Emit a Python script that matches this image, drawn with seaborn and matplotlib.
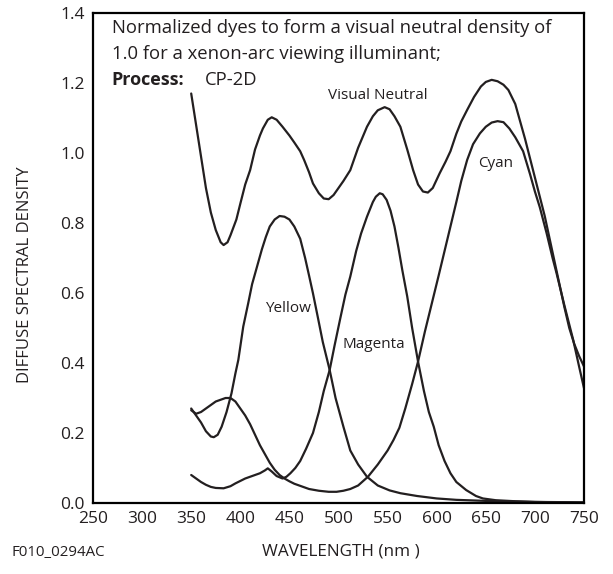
import numpy as np
import pandas as pd
import matplotlib
matplotlib.use("Agg")
import matplotlib.pyplot as plt
import seaborn as sns

# ---- data (wavelength in nm, diffuse spectral density) ----
wl_neutral = [350, 355, 360, 365, 370, 375, 380, 383, 387, 390, 396, 400, 405, 410, 415, 420,
              423, 428, 432, 437, 443, 450, 455, 461, 465, 470, 474, 480, 485, 490, 495, 500,
              505, 512, 520, 529, 535, 540, 547, 552, 557, 563, 570, 576, 581, 586, 591, 596,
              603, 609, 614, 620, 625, 631, 638, 645, 650, 656, 662, 668, 673, 680, 686, 690,
              695, 700, 705, 710, 715, 720, 725, 730, 735, 740, 745, 750]
d_neutral = [1.17, 1.08, 0.99, 0.90, 0.83, 0.78, 0.745, 0.737, 0.745, 0.765, 0.81, 0.855, 0.91,
             0.951, 1.01, 1.05, 1.07, 1.095, 1.102, 1.095, 1.075, 1.05, 1.03, 1.005, 0.98, 0.945,
             0.913, 0.885, 0.87, 0.868, 0.88, 0.90, 0.92, 0.951, 1.015, 1.075, 1.105, 1.122,
             1.131, 1.125, 1.105, 1.075, 1.01, 0.951, 0.91, 0.89, 0.887, 0.90, 0.942, 0.975,
             1.005, 1.055, 1.09, 1.123, 1.16, 1.19, 1.203, 1.209, 1.205, 1.195, 1.18, 1.14,
             1.08, 1.04, 0.985, 0.93, 0.875, 0.82, 0.755, 0.69, 0.625, 0.56, 0.50, 0.455,
             0.42, 0.39]

wl_cyan = [350, 355, 360, 365, 370, 375, 380, 385, 390, 395, 400, 405, 410, 415, 420, 425,
           430, 435, 440, 445, 450, 455, 460, 470, 480, 490, 498, 505, 512, 520, 530, 540,
           550, 556, 562, 568, 575, 581, 588, 595, 602, 608, 614, 620, 625, 631, 637, 644,
           650, 656, 662, 668, 674, 680, 688, 695, 700, 705, 712, 718, 722, 730, 739, 745, 750]
d_cyan = [0.265, 0.255, 0.26, 0.27, 0.28, 0.29, 0.295, 0.30, 0.30, 0.29, 0.27, 0.25, 0.225,
          0.195, 0.165, 0.14, 0.115, 0.095, 0.08, 0.07, 0.062, 0.055, 0.05, 0.04, 0.035, 0.032,
          0.032, 0.035, 0.04, 0.05, 0.075, 0.11, 0.15, 0.18, 0.215, 0.27, 0.34, 0.404, 0.49,
          0.57, 0.65, 0.72, 0.79, 0.86, 0.92, 0.98, 1.025, 1.056, 1.075, 1.087, 1.091, 1.088,
          1.07, 1.045, 1.005, 0.94, 0.89, 0.845, 0.77, 0.70, 0.657, 0.565, 0.466, 0.39, 0.328]

wl_magenta = [350, 355, 360, 365, 370, 375, 383, 390, 395, 400, 405, 410, 415, 420, 425, 428,
              432, 437, 443, 447, 451, 456, 461, 467, 474, 480, 485, 491, 496, 502, 507, 512,
              518, 523, 529, 535, 538, 542, 545, 549, 553, 557, 561, 565, 570, 575, 581, 587,
              592, 597, 602, 608, 614, 620, 630, 640, 647, 660, 680, 700, 750]
d_magenta = [0.08, 0.07, 0.06, 0.052, 0.046, 0.043, 0.042, 0.048, 0.056, 0.063, 0.07, 0.075,
             0.08, 0.085, 0.093, 0.099, 0.09, 0.077, 0.07, 0.075, 0.085, 0.10, 0.12, 0.155,
             0.20, 0.26, 0.32, 0.38, 0.45, 0.53, 0.595, 0.647, 0.72, 0.77, 0.818, 0.86, 0.875,
             0.885, 0.882, 0.866, 0.835, 0.79, 0.73, 0.665, 0.59, 0.50, 0.404, 0.32, 0.26,
             0.218, 0.165, 0.12, 0.085, 0.06, 0.037, 0.02, 0.013, 0.008, 0.005, 0.003, 0.002]

wl_yellow = [350, 355, 360, 365, 370, 373, 377, 381, 386, 391, 395, 398, 403, 408, 412, 417,
             422, 426, 430, 435, 440, 445, 450, 455, 461, 466, 470, 474, 479, 484, 491, 497,
             505, 512, 520, 529, 540, 552, 563, 580, 600, 620, 650, 700, 750]
d_yellow = [0.27, 0.25, 0.23, 0.205, 0.19, 0.188, 0.195, 0.218, 0.26, 0.313, 0.37, 0.409, 0.504,
            0.57, 0.625, 0.675, 0.725, 0.76, 0.79, 0.81, 0.82, 0.818, 0.81, 0.79, 0.755, 0.70,
            0.65, 0.599, 0.53, 0.46, 0.38, 0.30, 0.218, 0.15, 0.11, 0.075, 0.05, 0.036, 0.028,
            0.02, 0.013, 0.009, 0.006, 0.003, 0.001]

curve_names = ["Visual Neutral", "Cyan", "Magenta", "Yellow"]
x_ticks = [250, 300, 350, 400, 450, 500, 550, 600, 650, 700, 750]
y_ticks = [0.0, 0.2, 0.4, 0.6, 0.8, 1.0, 1.2, 1.4]
y_tick_labels = ["0.0", "0.2", "0.4", "0.6", "0.8", "1.0", "1.2", "1.4"]

df = pd.concat([
    pd.DataFrame({"wavelength": wl, "density": d, "curve": name})
    for name, wl, d in zip(curve_names,
                           [wl_neutral, wl_cyan, wl_magenta, wl_yellow],
                           [d_neutral, d_cyan, d_magenta, d_yellow])
], ignore_index=True)

INK = "#231f20"

sns.set_theme(style="white")
plt.rcParams["font.family"] = ["Open Sans", "DejaVu Sans"]

W, H = 613, 574
fig = plt.figure(figsize=(W / 100, H / 100), dpi=100)
ax = fig.add_axes([93 / W, 1 - 503 / H, (584 - 93) / W, (503 - 13) / H])

sns.lineplot(data=df, x="wavelength", y="density", units="curve", estimator=None,
             sort=False, color=INK, linewidth=1.6, ax=ax, legend=False)

ax.set_xlim(250, 750)
ax.set_ylim(0, 1.4)
ax.set_xticks(x_ticks)
ax.set_xticklabels([str(t) for t in x_ticks])
ax.set_yticks(y_ticks)
ax.set_yticklabels(y_tick_labels)
ax.tick_params(direction="in", length=8.5, width=1.6, color="black",
               labelsize=12.5, labelcolor=INK, pad=6)
for sp in ax.spines.values():
    sp.set_visible(True)
    sp.set_color("black")
    sp.set_linewidth(1.6)
ax.set_xlabel("")
ax.set_ylabel("")
ax.grid(False)

# in-plot texts
ax.text(269, 1.357, "Normalized dyes to form a visual neutral density of",
        fontsize=13.3, color=INK, va="center", ha="left")
ax.text(269, 1.283, "1.0 for a xenon-arc viewing illuminant;",
        fontsize=13.3, color=INK, va="center", ha="left")
ax.text(269, 1.209, "Process:", fontsize=13, color=INK, va="center", ha="left",
        fontweight="bold")
ax.text(364, 1.209, "CP-2D", fontsize=13.3, color=INK, va="center", ha="left")

ax.text(540, 1.163, "Visual Neutral", fontsize=11, color=INK, va="center", ha="center")
ax.text(660, 0.97, "Cyan", fontsize=11, color=INK, va="center", ha="center")
ax.text(449, 0.557, "Yellow", fontsize=11, color=INK, va="center", ha="center")
ax.text(536, 0.452, "Magenta", fontsize=11, color=INK, va="center", ha="center")

fig.text(25 / W, 1 - 275 / H, "DIFFUSE SPECTRAL DENSITY", rotation=90, fontsize=12,
         color=INK, ha="center", va="center")
fig.text(341 / W, 1 - 552 / H, "WAVELENGTH (nm )", fontsize=12.3, color=INK,
         ha="center", va="center")
fig.text(12 / W, 1 - 553 / H, "F010_0294AC", fontsize=10.8, color=INK,
         ha="left", va="center")

fig.savefig("out.png", dpi=100)
